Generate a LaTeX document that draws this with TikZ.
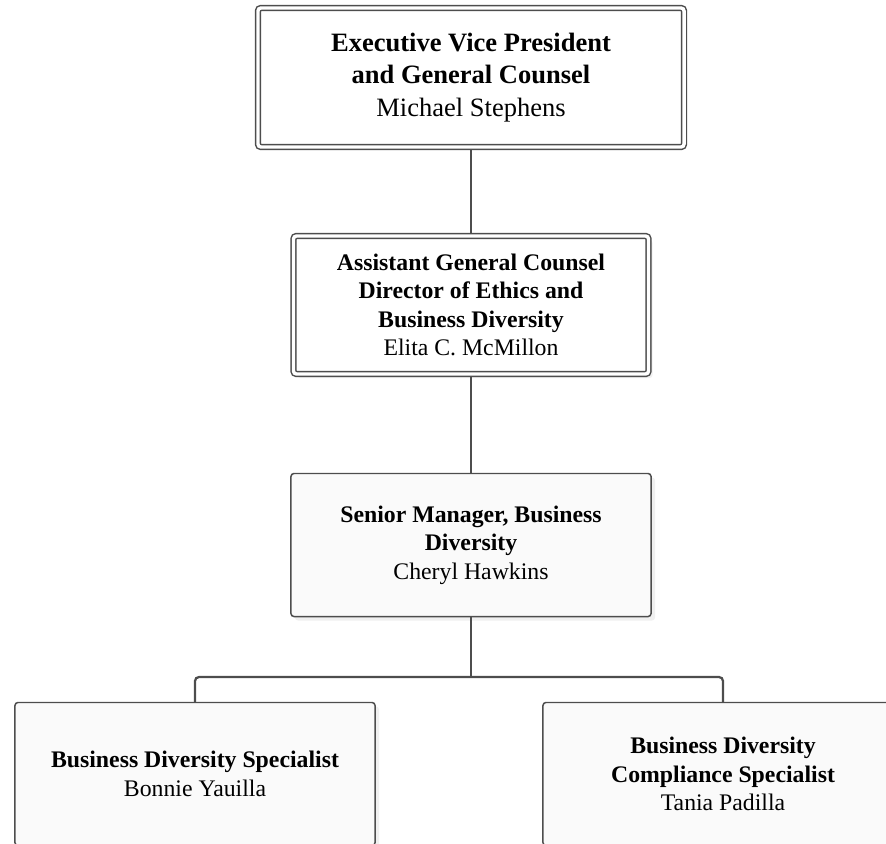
\documentclass[tikz,border=0pt]{standalone}
\usepackage{fontspec}
\setmainfont{Liberation Serif}
\usetikzlibrary{shadows}

\definecolor{linegray}{RGB}{77,77,77}
\definecolor{boxfill}{RGB}{250,250,250}

\begin{document}
\begin{tikzpicture}[
    x=0.025cm, y=-0.025cm,
    box/.style={rectangle, rounded corners=0.075cm, draw=linegray, line width=1.05pt,
        align=center, inner sep=0pt, font=\fontsize{16.9}{20.3}\selectfont},
    dbox/.style={box, double, double distance=2.4pt, fill=white, outer sep=0.08cm},
    softshadow/.style={drop shadow={shadow xshift=0.1cm, shadow yshift=-0.1cm, fill=black!6, opacity=1}},
    sbox/.style={box, softshadow, fill=boxfill, minimum width=9cm, minimum height=3.575cm},
    link/.style={draw=linegray, line width=1.4pt},
]
    % Page frame
    \useasboundingbox (0,0) rectangle (886,843);
    \clip (0,0) rectangle (886,843);

    % Boxes
    \node[dbox, minimum width=10.65cm, minimum height=3.475cm,
        font=\fontsize{18.85}{23.1}\selectfont] (evp) at (471,77.5)
        {\textbf{Executive Vice President}\\\textbf{and General Counsel}\\Michael Stephens};
    \node[dbox, softshadow, minimum width=8.875cm, minimum height=3.45cm] (agc) at (471,305)
        {\textbf{Assistant General Counsel}\\\textbf{Director of Ethics and}\\\textbf{Business Diversity}\\Elita C. McMillon};
    \node[sbox] (smbd) at (471,545)
        {\textbf{Senior Manager, Business}\\\textbf{Diversity}\\Cheryl Hawkins};
    \node[sbox] (bds) at (195,774)
        {\textbf{Business Diversity Specialist}\\Bonnie Yauilla};
    \node[sbox] (bdcs) at (723,774)
        {\textbf{Business Diversity}\\\textbf{Compliance Specialist}\\Tania Padilla};

    % Connectors
    \draw[link] (evp.south) -- (agc.north);
    \draw[link, line width=0.8pt] (agc.south) -- (smbd.north);
    \coordinate (split) at (471,677);
    \draw[link, line width=1.6pt] (smbd.south) -- (split);
    \draw[link, line width=1.6pt, rounded corners=0.1cm] (bds.north) |- (split) -| (bdcs.north);
\end{tikzpicture}
\end{document}
